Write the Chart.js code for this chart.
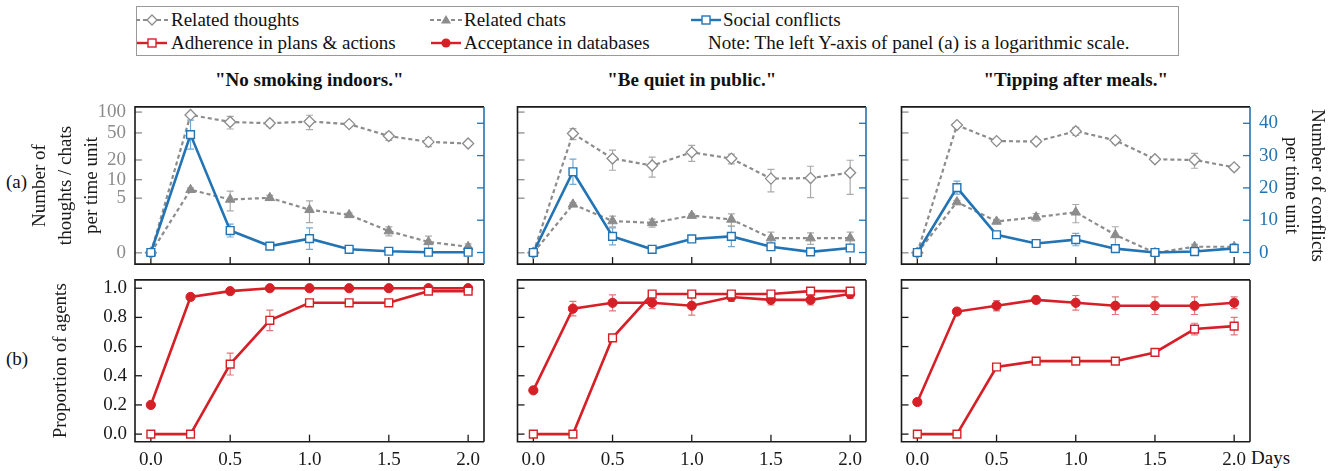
<!DOCTYPE html>
<html>
<head>
<meta charset="utf-8">
<script src="https://cdn.jsdelivr.net/npm/chart.js@4.4.1/dist/chart.umd.min.js"></script>
<style>
  body { margin: 0; width: 1329px; height: 471px; position: relative; overflow: hidden; background: #fff;
         font-family: "Liberation Serif", "Times New Roman", serif; color: #111; }
  canvas { position: absolute; }
  .txt { position: absolute; font-size: 19px; line-height: 22px; white-space: nowrap; }
  .ttl { position: absolute; font-size: 19px; font-weight: bold; line-height: 22px; white-space: nowrap; transform: translateX(-50%); }
  #legendBox { position: absolute; left: 136px; top: 6px; width: 1041px; height: 48px; border: 1.5px solid #999; }
  .mk { position: absolute; }
</style>
</head>
<body>
<div id="legendBox"></div>

<svg class="mk" style="left:136px;top:12px" width="32" height="16">
  <line x1="0" y1="8" x2="32" y2="8" stroke="#8c8c8c" stroke-width="2" stroke-dasharray="4 3"/>
  <polygon points="16,3 21,8 16,13 11,8" fill="#fff" stroke="#8c8c8c" stroke-width="1.3"/>
</svg>
<div class="txt" style="left:171px;top:9px">Related thoughts</div>
<svg class="mk" style="left:430px;top:12px" width="32" height="16">
  <line x1="0" y1="8" x2="32" y2="8" stroke="#8c8c8c" stroke-width="2" stroke-dasharray="4 3"/>
  <polygon points="16,3 21,11.5 11,11.5" fill="#8c8c8c"/>
</svg>
<div class="txt" style="left:464px;top:9px">Related chats</div>
<svg class="mk" style="left:690px;top:12px" width="32" height="16">
  <line x1="1" y1="8" x2="31" y2="8" stroke="#2274b5" stroke-width="2.4"/>
  <rect x="12" y="4" width="8" height="8" fill="#fff" stroke="#2274b5" stroke-width="1.4"/>
</svg>
<div class="txt" style="left:723px;top:9px">Social conflicts</div>

<svg class="mk" style="left:136px;top:35px" width="32" height="16">
  <line x1="1" y1="8" x2="31" y2="8" stroke="#d62027" stroke-width="2.4"/>
  <rect x="12" y="4" width="8" height="8" fill="#fff" stroke="#d62027" stroke-width="1.4"/>
</svg>
<div class="txt" style="left:171px;top:32px">Adherence in plans &amp; actions</div>
<svg class="mk" style="left:430px;top:35px" width="32" height="16">
  <line x1="1" y1="8" x2="31" y2="8" stroke="#d62027" stroke-width="2.4"/>
  <circle cx="16" cy="8" r="4.6" fill="#d62027"/>
</svg>
<div class="txt" style="left:464px;top:32px">Acceptance in databases</div>
<div class="txt" style="left:708px;top:32px">Note: The left Y-axis of panel (a) is a logarithmic scale.</div>

<div class="txt" style="left:6px;top:171px">(a)</div>
<div class="txt" style="left:6px;top:348px">(b)</div>
<div class="txt" style="left:1251px;top:447px">Days</div>

<script>
// ---- data ----
const days = [0, 0.25, 0.5, 0.75, 1.0, 1.25, 1.5, 1.75, 2.0];
const dayTicks = [0, 0.5, 1.0, 1.5, 2.0];
const countTicks = [0, 5, 10, 20, 50, 100];
const conflictTicks = [0, 10, 20, 30, 40];
const proportionTicks = [0, 0.2, 0.4, 0.6, 0.8, 1.0];
const norms = ['"No smoking indoors."', '"Be quiet in public."', '"Tipping after meals."'];

const thoughts = [
  [0, 91, 72, 69, 73, 67, 45, 37, 35],
  [0, 49, 21, 16.5, 26, 21, 10.4, 10.6, 12.8],
  [0, 65, 38, 37.5, 53, 39, 20.5, 20, 15.5]
];
const thoughtsErr = [
  [0, 3, 15, 7, 17, 3, 6, 5.5, 2],
  [0, 9, 7, 5.5, 7, 3.5, 4, 5.5, 7],
  [0, 2, 3.5, 2, 7, 4, 1, 5, 1.5]
];
const chats = [
  [0, 6.9, 4.75, 5.07, 3.1, 2.47, 1.04, 0.43, 0.22],
  [0, 3.9, 1.84, 1.67, 2.39, 1.99, 0.62, 0.62, 0.62],
  [0, 4.28, 1.8, 2.22, 2.78, 0.8, 0, 0.22, 0.22]
];
const chatsErr = [
  [0, 0.5, 1.8, 0.5, 1.4, 0.2, 0.3, 0.3, 0.12],
  [0, 0.3, 0.5, 0.35, 0.2, 0.6, 0.35, 0.3, 0.35],
  [0, 0.3, 0.2, 0.4, 1.1, 0.55, 0.05, 0.1, 0.1]
];
const conflicts = [
  [0, 36.5, 6.8, 2.0, 4.3, 1.0, 0.4, 0.1, 0.1],
  [0, 25, 5, 1, 4.2, 5, 1.8, 0.2, 1.4],
  [0, 20.1, 5.5, 2.8, 4.0, 1.2, 0, 0.3, 1.3]
];
const conflictsErr = [
  [0, 4.5, 2, 0.5, 3.3, 0.3, 0.3, 0.3, 0.3],
  [0, 3.9, 2.6, 0.4, 0.6, 3.2, 1, 0.4, 0.6],
  [0, 2, 0.8, 0.5, 1.9, 0.5, 0.2, 0.4, 0.6]
];
const adherence = [
  [0, 0, 0.48, 0.78, 0.90, 0.90, 0.90, 0.98, 0.98],
  [0, 0, 0.66, 0.96, 0.96, 0.96, 0.96, 0.98, 0.98],
  [0, 0, 0.46, 0.50, 0.50, 0.50, 0.56, 0.72, 0.74]
];
const adherenceErr = [
  [0, 0, 0.075, 0.07, 0.01, 0.01, 0.01, 0.01, 0.01],
  [0, 0, 0.01, 0.01, 0.01, 0.01, 0.01, 0.01, 0.01],
  [0, 0, 0.01, 0.01, 0.01, 0.01, 0.01, 0.04, 0.06]
];
const acceptance = [
  [0.2, 0.94, 0.98, 1, 1, 1, 1, 1, 1],
  [0.30, 0.86, 0.90, 0.90, 0.88, 0.94, 0.92, 0.92, 0.96],
  [0.22, 0.84, 0.88, 0.92, 0.90, 0.88, 0.88, 0.88, 0.90]
];
const acceptanceErr = [
  [0, 0.01, 0.01, 0, 0, 0, 0, 0, 0],
  [0, 0.05, 0.055, 0.04, 0.065, 0.03, 0.035, 0.035, 0.03],
  [0.02, 0.01, 0.035, 0.025, 0.05, 0.06, 0.06, 0.06, 0.04]
];

// ---- styles ----
const GRAY = '#8c8c8c', GRAY_ERR = '#aaaaaa';
const BLUE = '#2274b5', BLUE_ERR = '#72a9d6';
const RED = '#d62027', RED_ERR = '#e4767a';
const INK = '#1a1a1a';
const FONT = { family: '"Liberation Serif", "Times New Roman", serif', size: 19 };

// log10(1 + v) axis, like the left axis of panel (a)
class Log1pScale extends Chart.LinearScale {
  static id = 'log1p';
  static defaults = {};
  getPixelForValue(value) {
    const a = Math.log10(1 + this.min), b = Math.log10(1 + this.max);
    return this.getPixelForDecimal((Math.log10(1 + value) - a) / (b - a));
  }
  getValueForPixel(pixel) {
    const a = Math.log10(1 + this.min), b = Math.log10(1 + this.max);
    return Math.pow(10, a + this.getDecimalForPixel(pixel) * (b - a)) - 1;
  }
}
Chart.register(Log1pScale);

const errorBars = {
  id: 'errorBars',
  beforeDatasetsDraw(chart) {
    const ctx = chart.ctx;
    chart.data.datasets.forEach((ds, di) => {
      if (!ds.errors) return;
      const meta = chart.getDatasetMeta(di);
      const xs = chart.scales[meta.xAxisID], ys = chart.scales[meta.yAxisID];
      ctx.save();
      ctx.strokeStyle = ds.errorColor;
      ctx.lineWidth = 1.2;
      ds.data.forEach((p, i) => {
        const e = ds.errors[i];
        if (!e) return;
        const x = xs.getPixelForValue(p.x);
        const lo = ys.getPixelForValue(Math.max(p.y - e, 0));
        const hi = ys.getPixelForValue(p.y + e);
        ctx.beginPath();
        ctx.moveTo(x, lo); ctx.lineTo(x, hi);
        ctx.moveTo(x - 3.5, lo); ctx.lineTo(x + 3.5, lo);
        ctx.moveTo(x - 3.5, hi); ctx.lineTo(x + 3.5, hi);
        ctx.stroke();
      });
      ctx.restore();
    });
  }
};

// box frame and inward tick marks
const frame = {
  id: 'frame',
  beforeDatasetsDraw(chart, args, opts) {
    const { ctx, chartArea: a } = chart;
    ctx.save();
    ctx.lineWidth = 1.3;
    Object.keys(chart.scales).forEach(id => {
      const s = chart.scales[id];
      ctx.strokeStyle = opts.tickColors[id] || INK;
      s.ticks.forEach((t, i) => {
        const p = s.getPixelForTick(i);
        ctx.beginPath();
        if (s.position === 'bottom') { ctx.moveTo(p, a.bottom); ctx.lineTo(p, a.bottom - 7); }
        else if (s.position === 'left') { ctx.moveTo(a.left, p); ctx.lineTo(a.left + 7, p); }
        else { ctx.moveTo(a.right, p); ctx.lineTo(a.right - 7, p); }
        ctx.stroke();
      });
    });
    ctx.lineWidth = 1.6;
    ctx.strokeStyle = INK;
    ctx.beginPath();
    ctx.moveTo(a.right, a.top); ctx.lineTo(a.left, a.top); ctx.lineTo(a.left, a.bottom); ctx.lineTo(a.right, a.bottom);
    ctx.stroke();
    ctx.strokeStyle = opts.right || INK;
    ctx.beginPath();
    ctx.moveTo(a.right, a.top); ctx.lineTo(a.right, a.bottom);
    ctx.stroke();
    ctx.restore();
  }
};

function pts(vals) { return days.map((d, i) => ({ x: d, y: vals[i] })); }
function setTicks(values) { return s => { s.ticks = values.map(v => ({ value: v })); }; }
// fixed axis size, no extra room for overhanging labels
function fixWidth(w) { return s => { s.width = w; s.paddingTop = 0; s.paddingBottom = 0; }; }
function fixHeight(h) { return s => { s.height = h; s.paddingLeft = 0; s.paddingRight = 0; }; }

function makeCanvas(left, top, w, h) {
  const c = document.createElement('canvas');
  c.width = w; c.height = h;
  c.style.left = left + 'px'; c.style.top = top + 'px';
  c.style.width = w + 'px'; c.style.height = h + 'px';
  document.body.appendChild(c);
  return c;
}

const colLeft = [0, 500, 880];
const plotLeft = [135, 517.5, 901.5];
const plotW = 348.5;
const noGrid = { grid: { display: false, drawTicks: false }, border: { display: false } };

function titleDiv(col) {
  const d = document.createElement('div');
  d.className = 'ttl';
  d.textContent = norms[col];
  d.style.left = (plotLeft[col] + plotW / 2) + 'px';
  d.style.top = '69px';
  document.body.appendChild(d);
}

function topPanel(col) {
  const L = plotLeft[col] - colLeft[col];
  const R = col === 2 ? 80 : 10;
  const c = makeCanvas(colLeft[col], 100, Math.round(L + plotW + R), 171);
  new Chart(c, {
    type: 'line',
    data: {
      datasets: [
        { label: 'Social conflicts', data: pts(conflicts[col]), errors: conflictsErr[col], errorColor: BLUE_ERR,
          yAxisID: 'y1', borderColor: BLUE, borderWidth: 2.6, pointStyle: 'rect', pointRadius: 5.5,
          pointBackgroundColor: '#fff', pointBorderColor: BLUE, pointBorderWidth: 1.4 },
        { label: 'Related thoughts', data: pts(thoughts[col]), errors: thoughtsErr[col], errorColor: GRAY_ERR,
          yAxisID: 'y', borderColor: GRAY, borderWidth: 2.2, borderDash: [4, 3], pointStyle: 'rectRot', pointRadius: 5.5,
          pointBackgroundColor: '#fff', pointBorderColor: GRAY, pointBorderWidth: 1.3 },
        { label: 'Related chats', data: pts(chats[col]), errors: chatsErr[col], errorColor: GRAY_ERR,
          yAxisID: 'y', borderColor: GRAY, borderWidth: 2.2, borderDash: [4, 3], pointStyle: 'triangle', pointRadius: 5.5,
          pointBackgroundColor: GRAY, pointBorderColor: GRAY, pointBorderWidth: 1 }
      ]
    },
    options: {
      animation: false, responsive: false,
      layout: { padding: { top: 4, left: 0, right: 0, bottom: 0 } },
      plugins: { legend: { display: false }, tooltip: { enabled: false },
                 frame: { right: BLUE, tickColors: { x: INK, y: GRAY, y1: BLUE } } },
      scales: {
        x: { type: 'linear', min: -0.1, max: 2.1, bounds: 'data', ...noGrid,
             ticks: { display: false }, afterBuildTicks: setTicks(dayTicks), afterFit: fixHeight(4) },
        y: { type: 'log1p', position: 'left', min: -0.309, max: 118.7, bounds: 'data', ...noGrid,
             ticks: { display: col === 0, color: GRAY, font: FONT, padding: 9, callback: v => String(v) },
             title: { display: col === 0, text: ['Number of', 'thoughts / chats', 'per time unit'], color: INK,
                      font: { ...FONT, lineHeight: 26 / 19 }, padding: { top: 27, bottom: 0 } },
             afterBuildTicks: setTicks(countTicks), afterFit: fixWidth(L) },
        y1: { type: 'linear', position: 'right', min: -3.58, max: 45.07, bounds: 'data', ...noGrid,
              ticks: { display: col === 2, color: BLUE, font: FONT, padding: 9, callback: v => String(v) },
              title: { display: col === 2, text: ['Number of conflicts', 'per time unit'], color: INK,
                       font: { ...FONT, lineHeight: 26 / 19 }, padding: { top: 0, bottom: 0 } },
              afterBuildTicks: setTicks(conflictTicks), afterFit: fixWidth(R) }
      }
    },
    plugins: [frame, errorBars]
  });
}

function bottomPanel(col) {
  const L = plotLeft[col] - colLeft[col];
  const R = col === 2 ? 80 : 10;
  const c = makeCanvas(colLeft[col], 273, Math.round(L + plotW + R), 198);
  new Chart(c, {
    type: 'line',
    data: {
      datasets: [
        { label: 'Adherence in plans & actions', data: pts(adherence[col]), errors: adherenceErr[col], errorColor: RED_ERR,
          borderColor: RED, borderWidth: 2.6, pointStyle: 'rect', pointRadius: 5.5,
          pointBackgroundColor: '#fff', pointBorderColor: RED, pointBorderWidth: 1.4 },
        { label: 'Acceptance in databases', data: pts(acceptance[col]), errors: acceptanceErr[col], errorColor: RED_ERR,
          borderColor: RED, borderWidth: 2.6, pointStyle: 'circle', pointRadius: 4.6,
          pointBackgroundColor: RED, pointBorderColor: RED, pointBorderWidth: 1 }
      ]
    },
    options: {
      animation: false, responsive: false,
      layout: { padding: { top: 4, left: 0, right: R, bottom: 0 } },
      plugins: { legend: { display: false }, tooltip: { enabled: false },
                 frame: { right: INK, tickColors: { x: INK, y: INK } } },
      scales: {
        x: { type: 'linear', min: -0.1, max: 2.1, bounds: 'data', ...noGrid,
             ticks: { color: INK, font: FONT, padding: 7, maxRotation: 0, callback: v => v.toFixed(1) },
             afterBuildTicks: setTicks(dayTicks), afterFit: fixHeight(29.3) },
        y: { type: 'linear', position: 'left', min: -0.052, max: 1.057, bounds: 'data', ...noGrid,
             ticks: { display: col === 0, color: INK, font: FONT, padding: 8, callback: v => v.toFixed(1) },
             title: { display: col === 0, text: 'Proportion of agents', color: INK,
                      font: { ...FONT, lineHeight: 1.2 }, padding: { top: 50, bottom: 0 } },
             afterBuildTicks: setTicks(proportionTicks), afterFit: fixWidth(L) }
      }
    },
    plugins: [frame, errorBars]
  });
}

[0, 1, 2].forEach(col => { titleDiv(col); topPanel(col); bottomPanel(col); });
</script>
</body>
</html>
